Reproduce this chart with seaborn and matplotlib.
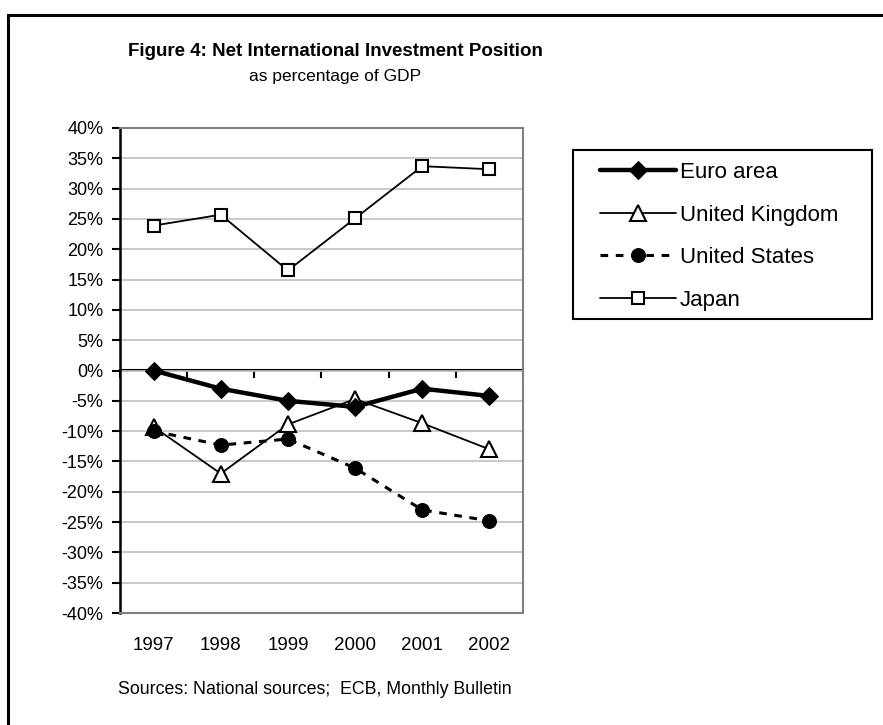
import numpy as np
import pandas as pd
import seaborn as sns
import matplotlib.pyplot as plt
from matplotlib.patches import Rectangle
from matplotlib.ticker import FixedLocator, FuncFormatter, NullFormatter

# Data (percent of GDP)
years = ["1997", "1998", "1999", "2000", "2001", "2002"]
euro_area = [0.0, -3.0, -5.0, -6.0, -3.0, -4.2]
united_kingdom = [-9.3, -17.0, -8.9, -4.7, -8.7, -13.0]
united_states = [-10.0, -12.3, -11.3, -16.1, -23.0, -24.8]
japan = [23.9, 25.7, 16.5, 25.1, 33.7, 33.2]

sns.set_style("white")
plt.rcParams['font.family'] = ['Liberation Sans', 'DejaVu Sans']
plt.rcParams['text.color'] = 'black'
plt.rcParams['xtick.color'] = 'black'
plt.rcParams['ytick.color'] = 'black'

W, H = 883, 725
fig = plt.figure(figsize=(W / 100, H / 100), dpi=100)
ax = fig.add_axes([120 / W, 1 - 613 / H, (523 - 120) / W, (613 - 128) / H])

x = np.arange(len(years))
df = pd.DataFrame({"x": x, "Euro area": euro_area, "United Kingdom": united_kingdom,
                   "United States": united_states, "Japan": japan})

# series styles, mimicking the old spreadsheet look
sns.lineplot(data=df, x="x", y="Euro area", ax=ax, color="black", lw=3.2,
             marker="D", markersize=9, markerfacecolor="black", markeredgecolor="black",
             label="Euro area", zorder=5)
sns.lineplot(data=df, x="x", y="United Kingdom", ax=ax, color="black", lw=1.3,
             marker="^", markersize=11, markerfacecolor="white", markeredgecolor="black",
             markeredgewidth=1.5, label="United Kingdom", zorder=4)
sns.lineplot(data=df, x="x", y="United States", ax=ax, color="black", lw=2.2,
             linestyle=(0, (2.5, 2.5)), marker="o", markersize=10,
             markerfacecolor="black", markeredgecolor="black",
             label="United States", zorder=4)
sns.lineplot(data=df, x="x", y="Japan", ax=ax, color="black", lw=1.3,
             marker="s", markersize=9, markerfacecolor="white", markeredgecolor="black",
             markeredgewidth=1.5, label="Japan", zorder=4)

# axes limits and ticks
ax.set_xlim(-0.5, len(years) - 0.5)
ax.set_ylim(-40, 40)
ax.set_yticks(np.arange(-40, 41, 5))
ax.yaxis.set_major_formatter(FuncFormatter(lambda v, p: "%d%%" % v))
ax.set_xticks(x)
ax.set_xticklabels(years)
ax.set_xlabel("")
ax.set_ylabel("")
ax.tick_params(axis="y", direction="out", length=6, width=1.5, color="black",
               labelsize=13, pad=6, left=True)
ax.tick_params(axis="x", length=0, labelsize=13.5, pad=17)

ax.yaxis.grid(True, color="#c0c0c0", lw=1.2)
ax.xaxis.grid(False)
ax.set_axisbelow(True)
for side in ["top", "right", "bottom"]:
    ax.spines[side].set_color("#808080")
    ax.spines[side].set_linewidth(1.5)
ax.spines["left"].set_color("black")
ax.spines["left"].set_linewidth(1.8)

# category axis crossing at zero with boundary tick marks
sec = ax.secondary_xaxis(0.5)
sec.xaxis.set_major_locator(FixedLocator(np.arange(-0.5, len(years), 1.0)))
sec.xaxis.set_major_formatter(NullFormatter())
sec.tick_params(direction="in", length=6, width=1.5, color="black")
for sp in sec.spines.values():
    sp.set_color("black")
    sp.set_linewidth(1.5)

# legend, frame drawn separately so the padding matches
leg = ax.legend(loc="upper left", bbox_to_anchor=(600 / W, 1 - 162 / H),
                bbox_transform=fig.transFigure, fontsize=16, frameon=False,
                handlelength=3.4, labelspacing=0.97, borderpad=0,
                handletextpad=0.2, borderaxespad=0)
fig.patches.append(Rectangle((573 / W, 1 - 319 / H), (872 - 573) / W, (319 - 150) / H,
                             transform=fig.transFigure, fill=False, edgecolor="black", lw=1.5))

# titles and source
fig.text(335 / W, 1 - 52 / H, "Figure 4: Net International Investment Position",
         ha="center", va="center", fontsize=13.5, fontweight="bold")
fig.text(335 / W, 1 - 76 / H, "as percentage of GDP", ha="center", va="center", fontsize=12.5)
fig.text(118 / W, 1 - 690 / H, "Sources: National sources;  ECB, Monthly Bulletin",
         ha="left", va="center", fontsize=12.8)

# outer chart border (runs off the right and bottom edges)
fig.patches.append(Rectangle((8 / W, -0.1), 1.2, 1.1 - 14.5 / H, transform=fig.transFigure,
                             fill=False, edgecolor="black", lw=2.2, clip_on=False))

plt.savefig("out.png", dpi=100)
plt.close(fig)
